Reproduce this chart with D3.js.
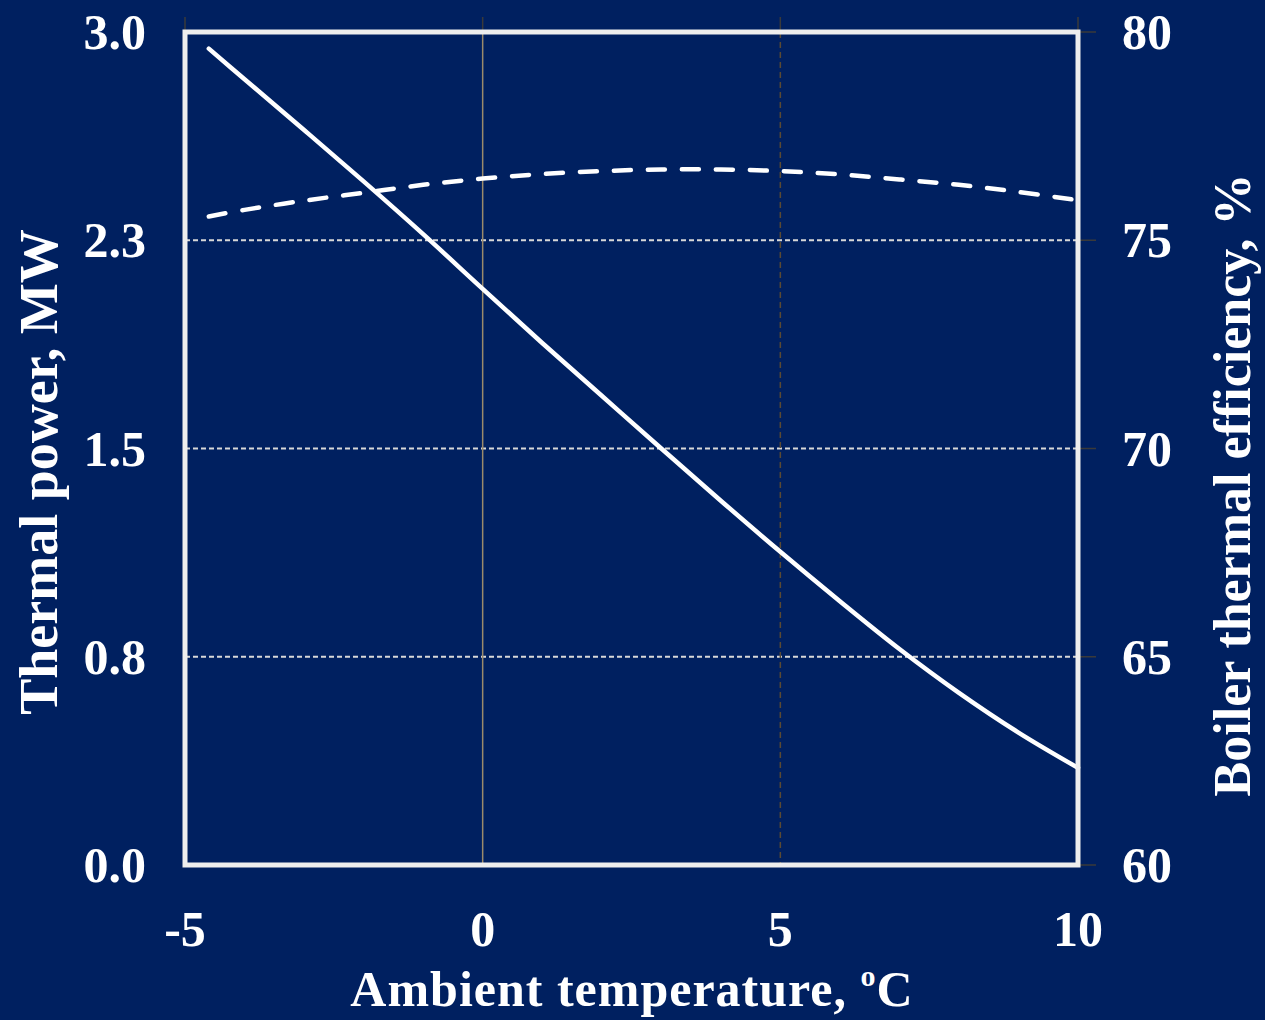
<!DOCTYPE html>
<html>
<head>
<meta charset="utf-8">
<script src="https://cdn.jsdelivr.net/npm/d3@7"></script>
<style>
  html, body { margin: 0; padding: 0; background: #002060; }
  svg { display: block; }
  text { font-family: "Liberation Serif", "Times New Roman", serif; font-weight: bold; fill: #ffffff; }
</style>
</head>
<body>
<svg id="chart" width="1265" height="1020"></svg>
<script>
// Ambient temperature, °C
const temps = [-4.6, -4, -3, -2, -1, 0, 1, 2, 3, 4, 5, 6, 7, 8, 9, 10];
// Thermal power, MW (left axis, solid line)
const thermalPower = [2.94, 2.83, 2.647, 2.462, 2.272, 2.075, 1.88, 1.69, 1.50, 1.312, 1.128, 0.95, 0.778, 0.62, 0.477, 0.35];
// Boiler thermal efficiency, % (right axis, dashed line)
const efficiency = [75.57, 75.73, 75.95, 76.14, 76.33, 76.48, 76.59, 76.66, 76.70, 76.70, 76.66, 76.58, 76.46, 76.33, 76.16, 75.96];

// Axis ticks
const xTicks = [-5, 0, 5, 10];
const powerTicks = [0, 0.75, 1.5, 2.25, 3.0];
const powerTickLabels = ["0.0", "0.8", "1.5", "2.3", "3.0"];
const effTicks = [60, 65, 70, 75, 80];

const svg = d3.select("#chart");
const W = 1265, H = 1020;
const plot = { left: 185, right: 1078, top: 32, bottom: 865 };

svg.append("rect").attr("width", W).attr("height", H).attr("fill", "#002060");

const x = d3.scaleLinear().domain([-5, 10]).range([plot.left, plot.right]);
const yP = d3.scaleLinear().domain([0, 3]).range([plot.bottom, plot.top]);
const yE = d3.scaleLinear().domain([60, 80]).range([plot.bottom, plot.top]);

// Horizontal dotted gridlines at the inner power ticks
svg.append("g").selectAll("line")
  .data(powerTicks.slice(1, -1))
  .join("line")
  .attr("x1", plot.left).attr("x2", plot.right)
  .attr("y1", d => yP(d)).attr("y2", d => yP(d))
  .attr("stroke", "#d8d8d8").attr("stroke-width", 2)
  .attr("stroke-dasharray", "5,3");

// Vertical gridlines: solid at 0 °C, dashed at 5 °C
svg.append("line")
  .attr("x1", x(0)).attr("x2", x(0)).attr("y1", plot.top).attr("y2", plot.bottom)
  .attr("stroke", "#9a8a6a").attr("stroke-width", 1.5);
svg.append("line")
  .attr("x1", x(5)).attr("x2", x(5)).attr("y1", plot.top).attr("y2", plot.bottom)
  .attr("stroke", "#5a4a33").attr("stroke-width", 1.5)
  .attr("stroke-dasharray", "6,4");

// Small outer tick marks on top and right
svg.append("g").selectAll("line")
  .data(xTicks)
  .join("line")
  .attr("x1", d => x(d)).attr("x2", d => x(d))
  .attr("y1", plot.top - 15).attr("y2", plot.top)
  .attr("stroke", "#3a3a3a").attr("stroke-width", 1.5);
svg.append("g").selectAll("line")
  .data(effTicks)
  .join("line")
  .attr("x1", plot.right).attr("x2", plot.right + 18)
  .attr("y1", d => yE(d)).attr("y2", d => yE(d))
  .attr("stroke", "#3a3a3a").attr("stroke-width", 1.5);

const powerData = temps.map((t, i) => ({ t, v: thermalPower[i] }));
const effData = temps.map((t, i) => ({ t, v: efficiency[i] }));

const powerLine = d3.line().x(d => x(d.t)).y(d => yP(d.v)).curve(d3.curveCatmullRom);
const effLine = d3.line().x(d => x(d.t)).y(d => yE(d.v)).curve(d3.curveCatmullRom);

svg.append("path")
  .datum(effData)
  .attr("d", effLine)
  .attr("fill", "none")
  .attr("stroke", "#ffffff").attr("stroke-width", 4.5)
  .attr("stroke-dasharray", "17,17")
  .attr("stroke-linecap", "round");

svg.append("path")
  .datum(powerData)
  .attr("d", powerLine)
  .attr("fill", "none")
  .attr("stroke", "#ffffff").attr("stroke-width", 4.5)
  .attr("stroke-linecap", "round");

// Plot frame
svg.append("rect")
  .attr("x", plot.left).attr("y", plot.top)
  .attr("width", plot.right - plot.left).attr("height", plot.bottom - plot.top)
  .attr("fill", "none").attr("stroke", "#eeeeee").attr("stroke-width", 5);

// Bottom axis labels
svg.append("g").selectAll("text")
  .data(xTicks)
  .join("text")
  .attr("x", d => x(d)).attr("y", 946)
  .attr("text-anchor", "middle")
  .attr("font-size", 50)
  .text(d => d);

// Left axis labels
svg.append("g").selectAll("text")
  .data(powerTicks)
  .join("text")
  .attr("x", 146).attr("y", d => yP(d) + 17)
  .attr("text-anchor", "end")
  .attr("font-size", 50)
  .text((d, i) => powerTickLabels[i]);

// Right axis labels
svg.append("g").selectAll("text")
  .data(effTicks)
  .join("text")
  .attr("x", 1122).attr("y", d => yE(d) + 17)
  .attr("text-anchor", "start")
  .attr("font-size", 50)
  .text(d => d);

// Axis titles
const xTitle = svg.append("text")
  .attr("x", 632).attr("y", 1006)
  .attr("text-anchor", "middle")
  .attr("font-size", 50)
  .attr("letter-spacing", 1);
xTitle.append("tspan").text("Ambient temperature, ");
xTitle.append("tspan").attr("font-size", 30).attr("dy", -20).text("o");
xTitle.append("tspan").attr("dy", 20).text("C");

svg.append("text")
  .attr("transform", "translate(57,472) rotate(-90)")
  .attr("text-anchor", "middle")
  .attr("font-size", 54)
  .text("Thermal power, MW");

svg.append("text")
  .attr("transform", "translate(1250,485) rotate(-90)")
  .attr("text-anchor", "middle")
  .attr("font-size", 52)
  .text("Boiler thermal efficiency, %");
</script>
</body>
</html>
